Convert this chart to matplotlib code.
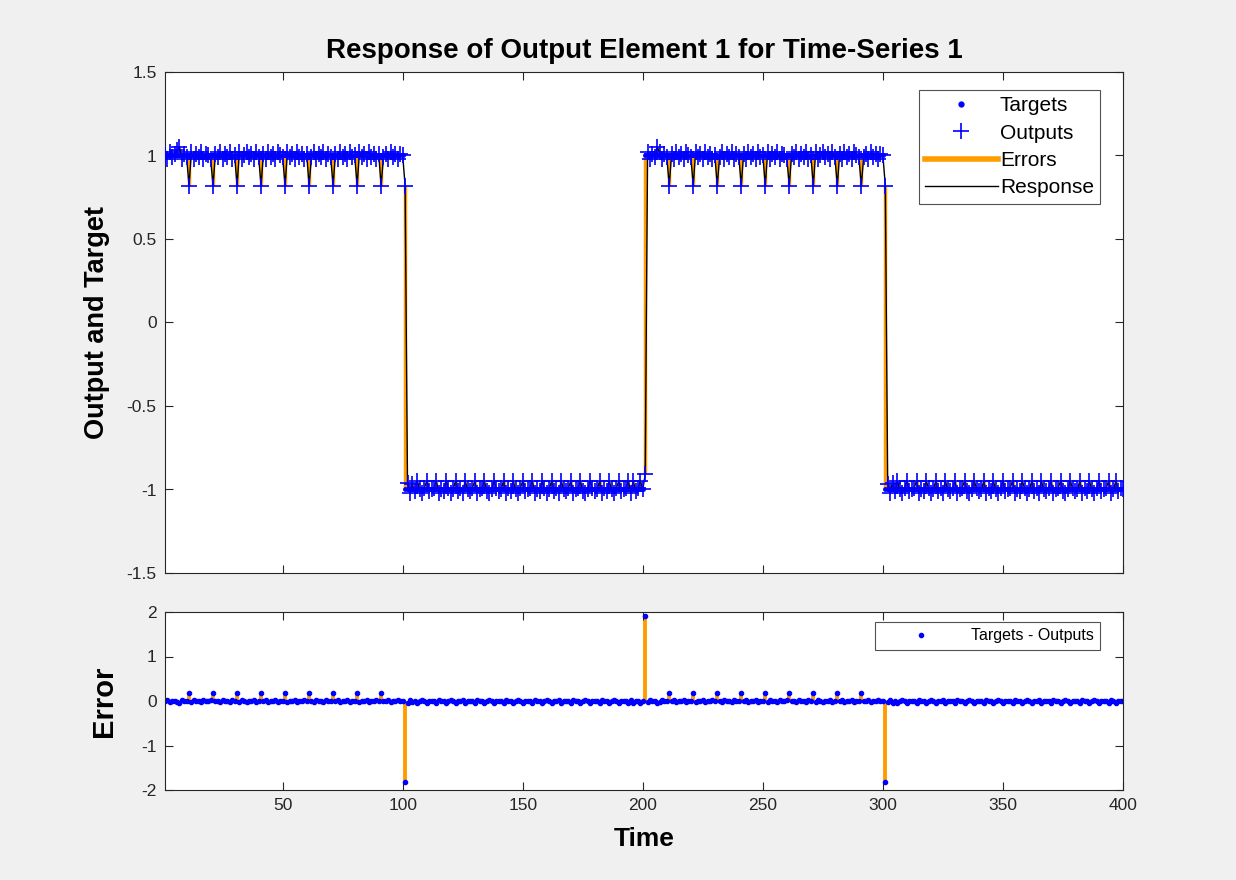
#!/usr/bin/env python3
# -*- coding: utf-8 -*-

"""
Response of output element 1 for time-series 1, with error subplot
"""

import numpy as np
import matplotlib.pyplot as plt
import matplotlib as mpl

mpl.rcParams['font.family'] = ['Liberation Sans', 'DejaVu Sans']
mpl.rcParams['axes.edgecolor'] = '#262626'
mpl.rcParams['xtick.color'] = '#262626'
mpl.rcParams['ytick.color'] = '#262626'
mpl.rcParams['axes.unicode_minus'] = False

# Target levels: square wave, four segments of 100 steps
segment_levels = [1, -1, 1, -1]
segment_length = 100

# Network outputs, t = 1..400 (rows of ten steps)
outputs_1 = [
    1.00, 0.98, 1.02, 0.99, 1.01, 1.03, 1.05, 0.98, 1.01, 0.99,
    0.82, 1.02, 0.98, 1.01, 0.99, 1.02, 0.98, 1.01, 1.00, 0.98,
    0.82, 1.01, 0.99, 1.02, 0.98, 1.01, 0.99, 1.02, 0.98, 1.00,
    0.82, 1.02, 0.98, 1.00, 1.02, 0.99, 1.01, 0.98, 1.02, 0.99,
    0.82, 1.01, 0.98, 1.02, 0.99, 1.01, 0.98, 1.02, 1.00, 0.99,
    0.82, 1.02, 0.99, 1.01, 0.98, 1.02, 0.99, 1.01, 0.98, 1.01,
    0.82, 0.99, 1.02, 0.98, 1.01, 0.99, 1.02, 0.98, 1.01, 0.99,
    0.82, 1.01, 0.98, 1.02, 0.99, 1.01, 0.98, 1.02, 0.99, 1.00,
    0.82, 1.02, 0.99, 1.01, 0.98, 1.02, 0.99, 1.01, 0.98, 1.01,
    0.82, 0.99, 1.01, 0.98, 1.02, 0.99, 1.01, 0.98, 1.01, 1.00,
]
outputs_2 = [
    0.82, -0.96, -1.02, -0.97, -1.01, -0.95, -1.00, -1.02, -0.99, -0.95,
    -1.01, -1.00, -0.99, -0.95, -1.02, -1.00, -1.01, -0.95, -0.99, -1.02,
    -1.00, -0.95, -1.01, -0.99, -1.02, -0.95, -1.00, -1.01, -0.99, -0.95,
    -1.02, -1.00, -0.99, -0.95, -1.01, -1.02, -1.00, -0.95, -0.99, -1.01,
    -1.00, -0.95, -1.02, -0.99, -1.01, -0.95, -1.00, -1.02, -0.99, -0.95,
    -1.01, -1.00, -0.99, -0.95, -1.02, -1.00, -1.01, -0.95, -0.99, -1.02,
    -1.00, -0.95, -1.01, -0.99, -1.02, -0.95, -1.00, -1.01, -0.99, -0.95,
    -1.02, -1.00, -0.99, -0.95, -1.01, -1.02, -1.00, -0.95, -0.99, -1.01,
    -1.00, -0.95, -1.02, -0.99, -1.01, -0.95, -1.00, -1.02, -0.99, -0.95,
    -1.01, -1.00, -0.99, -0.95, -1.02, -0.95, -1.01, -0.99, -0.95, -1.00,
]
outputs_3 = [
    -0.91, 1.02, 0.98, 1.01, 0.99, 1.05, 1.02, 0.98, 1.01, 0.99,
    0.82, 1.01, 0.98, 1.02, 0.99, 1.01, 0.98, 1.02, 1.00, 0.99,
    0.82, 1.02, 0.99, 1.01, 0.98, 1.02, 0.99, 1.01, 0.98, 1.00,
    0.82, 0.99, 1.02, 0.98, 1.01, 0.99, 1.02, 0.98, 1.01, 0.99,
    0.82, 1.01, 0.98, 1.02, 0.99, 1.01, 0.98, 1.02, 0.99, 1.00,
    0.82, 1.02, 0.98, 1.01, 0.99, 1.02, 0.98, 1.01, 1.00, 0.98,
    0.82, 1.01, 0.99, 1.02, 0.98, 1.01, 0.99, 1.02, 0.98, 1.00,
    0.82, 1.02, 0.98, 1.00, 1.02, 0.99, 1.01, 0.98, 1.02, 0.99,
    0.82, 1.01, 0.98, 1.02, 0.99, 1.01, 0.98, 1.02, 1.00, 0.99,
    0.82, 0.99, 1.01, 0.98, 1.02, 0.99, 1.01, 0.98, 1.01, 1.00,
]
outputs_4 = [
    0.82, -0.97, -1.02, -0.96, -1.01, -0.95, -1.00, -1.02, -0.99, -0.95,
    -1.01, -1.00, -0.99, -0.95, -1.02, -1.00, -1.01, -0.95, -0.99, -1.02,
    -1.00, -0.95, -1.01, -0.99, -1.02, -0.95, -1.00, -1.01, -0.99, -0.95,
    -1.02, -1.00, -0.99, -0.95, -1.01, -1.02, -1.00, -0.95, -0.99, -1.01,
    -1.00, -0.95, -1.02, -0.99, -1.01, -0.95, -1.00, -1.02, -0.99, -0.95,
    -1.01, -1.00, -0.99, -0.95, -1.02, -1.00, -1.01, -0.95, -0.99, -1.02,
    -1.00, -0.95, -1.01, -0.99, -1.02, -0.95, -1.00, -1.01, -0.99, -0.95,
    -1.02, -1.00, -0.99, -0.95, -1.01, -1.02, -1.00, -0.95, -0.99, -1.01,
    -1.00, -0.95, -1.02, -0.99, -1.01, -0.95, -1.00, -1.02, -0.99, -0.95,
    -1.01, -1.00, -0.99, -0.95, -1.02, -1.00, -0.95, -1.01, -0.99, -1.00,
]

yticks_main = [-1.5, -1, -0.5, 0, 0.5, 1, 1.5]
yticklabels_main = ['-1.5', '-1', '-0.5', '0', '0.5', '1', '1.5']
yticks_err = [-2, -1, 0, 1, 2]
xticks = [50, 100, 150, 200, 250, 300, 350, 400]

ORANGE = '#ff9d00'
BLUE = '#0000ff'


if __name__ == "__main__":

    targets = np.repeat(segment_levels, segment_length).astype(float)
    outputs = np.array(outputs_1 + outputs_2 + outputs_3 + outputs_4)
    errors = targets - outputs
    t = np.arange(1, len(targets) + 1)

    fig = plt.figure(figsize=(12.36, 8.8), dpi=100, facecolor='#f0f0f0')
    W, H = 1236, 880
    ax = fig.add_axes([165 / W, 1 - 573 / H, (1123 - 165) / W, (573 - 72) / H])
    ax2 = fig.add_axes([165 / W, 1 - 790 / H, (1123 - 165) / W, (790 - 612) / H])

    # Main plot: errors between target and output, response, markers
    ax.vlines(t, targets, outputs, color=ORANGE, lw=2.5, zorder=1)
    ax.plot([], [], color=BLUE, marker='.', ls='', ms=7, label='Targets')
    ax.plot([], [], color=BLUE, marker='+', ls='', ms=12, mew=1.2, label='Outputs')
    ax.plot([], [], color=ORANGE, lw=4, label='Errors')
    ax.plot(t, outputs, color='black', lw=1.0, zorder=2, label='Response')
    ax.plot(t, targets, color=BLUE, marker='.', ls='', ms=5, zorder=3)
    ax.plot(t, outputs, color=BLUE, marker='+', ls='', ms=12, mew=1.2, zorder=4)

    ax.set_xlim(1, 400)
    ax.set_ylim(-1.5, 1.5)
    ax.set_yticks(yticks_main)
    ax.set_yticklabels(yticklabels_main)
    ax.set_xticks(xticks)
    ax.set_xticklabels([])
    ax.set_title('Response of Output Element 1 for Time-Series 1',
                 fontsize=20, fontweight='bold', pad=10)
    ax.set_ylabel('Output and Target', fontsize=19.5, fontweight='bold', labelpad=12)
    h, l = ax.get_legend_handles_labels()
    leg = ax.legend(h, l, loc='upper right', bbox_to_anchor=(0.976, 0.964),
                    fontsize=15, fancybox=False, edgecolor='#262626',
                    handlelength=3.5, borderpad=0.3, labelspacing=0.4,
                    handletextpad=0.1, borderaxespad=0)
    leg.get_frame().set_linewidth(0.8)

    # Error subplot
    ax2.vlines(t, 0, errors, color=ORANGE, lw=2.8, zorder=1)
    ax2.plot(t, errors, color=BLUE, marker='.', ls='', ms=6, zorder=2,
             label='Targets - Outputs')
    ax2.set_xlim(1, 400)
    ax2.set_ylim(-2, 2)
    ax2.set_yticks(yticks_err)
    ax2.set_xticks(xticks)
    ax2.set_xlabel('Time', fontsize=19, fontweight='bold', labelpad=10)
    ax2.set_ylabel('Error', fontsize=21, fontweight='bold', labelpad=17)
    leg2 = ax2.legend(loc='upper right', bbox_to_anchor=(0.976, 0.944),
                      fontsize=11.5, fancybox=False, edgecolor='#262626',
                      markerscale=1.0, handlelength=5.0, borderpad=0.4,
                      handletextpad=0.6, borderaxespad=0)
    leg2.get_frame().set_linewidth(0.8)

    for a in (ax, ax2):
        a.tick_params(direction='in', top=True, right=True, length=6,
                      width=0.8, labelsize=12.5, pad=6)
        for s in a.spines.values():
            s.set_linewidth(0.8)

    fig.savefig('out.png', dpi=100, facecolor=fig.get_facecolor())
